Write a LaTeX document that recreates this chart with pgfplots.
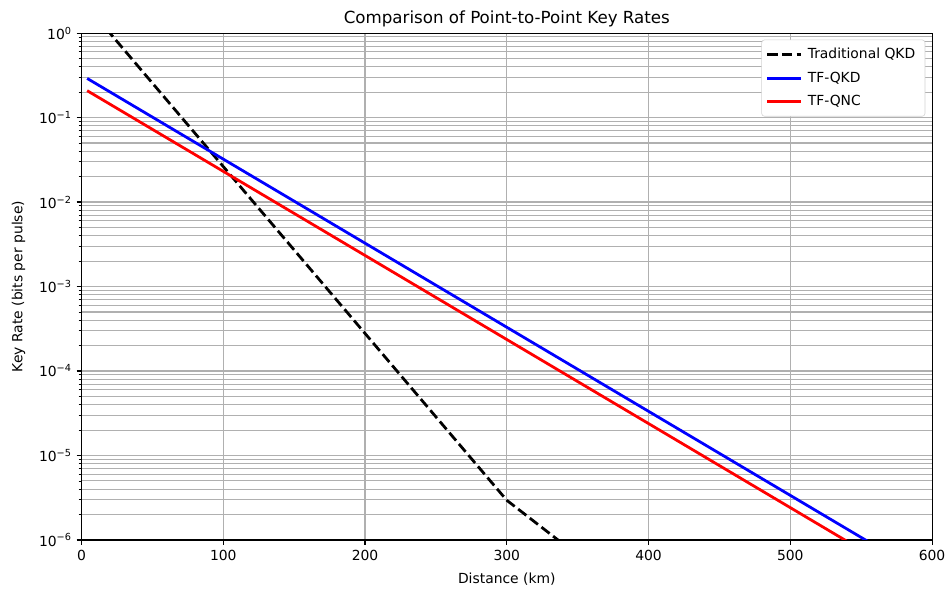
\documentclass[border=0pt]{standalone}
\usepackage{fontspec}
\setmainfont{DejaVu Sans}
\usepackage{pgfplots}
\pgfplotsset{compat=1.18}
\definecolor{gridgray}{HTML}{B0B0B0}
\begin{document}
\begin{tikzpicture}
\begin{axis}[
  scale only axis,
  width=612.4pt, height=365pt,
  xmin=0, xmax=600, ymin=1e-6, ymax=1,
  ymode=log,
  xtick={0,100,200,300,400,500,600},
  ytick={1e-6,1e-5,1e-4,1e-3,1e-2,1e-1,1},
  yticklabels={10\textsuperscript{−6},10\textsuperscript{−5},10\textsuperscript{−4},10\textsuperscript{−3},10\textsuperscript{−2},10\textsuperscript{−1},10\textsuperscript{0}},
  /pgf/number format/assume math mode=true,
  tick label style={font=\fontsize{10}{12}\selectfont},
  label style={font=\fontsize{10}{12}\selectfont},
  title style={font=\fontsize{12}{14}\selectfont, yshift=-5pt},
  title={Comparison of Point-to-Point Key Rates},
  xlabel={Distance (km)},
  ylabel={Key Rate (bits per pulse)},
  xlabel style={yshift=-2pt},
  ylabel style={yshift=3pt},
  tick align=outside,
  tick pos=lower,
  major tick length=3.5pt,
  minor tick length=2pt,
  every tick/.style={black, line width=0.8pt},
  minor tick style={line width=0.6pt},
  axis line style={line width=0.8pt},
  xmajorgrids, ymajorgrids, yminorgrids,
  major grid style={gridgray, line width=0.8pt},
  minor grid style={gridgray, line width=0.8pt},
  legend cell align=left,
  legend style={at={(0.992,0.987)}, anchor=north east, draw=gray!35, rounded corners=2pt,
    font=\fontsize{10}{12}\selectfont, inner xsep=3pt, inner ysep=4pt, row sep=4pt,
    nodes={inner xsep=4pt}},
  legend image code/.code={\draw[#1] plot coordinates {(0cm,0cm) (0.85cm,0cm)};},
]
\addplot[black, line width=2pt, dash pattern=on 7.4pt off 3.2pt] coordinates {
 (4,2.07) (50,0.2556) (100,0.0263) (150,2.707e-3) (200,2.786e-4) (250,2.868e-5) (300,2.951e-6) (350,6.61e-7)
};
\addlegendentry{Traditional QKD}
\addplot[blue, line width=2pt] coordinates {
 (4,0.2904) (100,0.03221) (200,3.258e-3) (300,3.296e-4) (400,3.334e-5) (500,3.373e-6) (600,3.41e-7)
};
\addlegendentry{TF-QKD}
\addplot[red, line width=2pt] coordinates {
 (4,0.208) (100,0.02307) (200,2.333e-3) (300,2.360e-4) (400,2.388e-5) (500,2.415e-6) (600,2.443e-7)
};
\addlegendentry{TF-QNC}
\end{axis}
\pgfresetboundingbox
\path[use as bounding box] (current axis.south west) ++(-58.7pt,-37.4pt) rectangle ([xshift=12.2pt,yshift=23.8pt]current axis.north east);
\end{tikzpicture}
\end{document}
